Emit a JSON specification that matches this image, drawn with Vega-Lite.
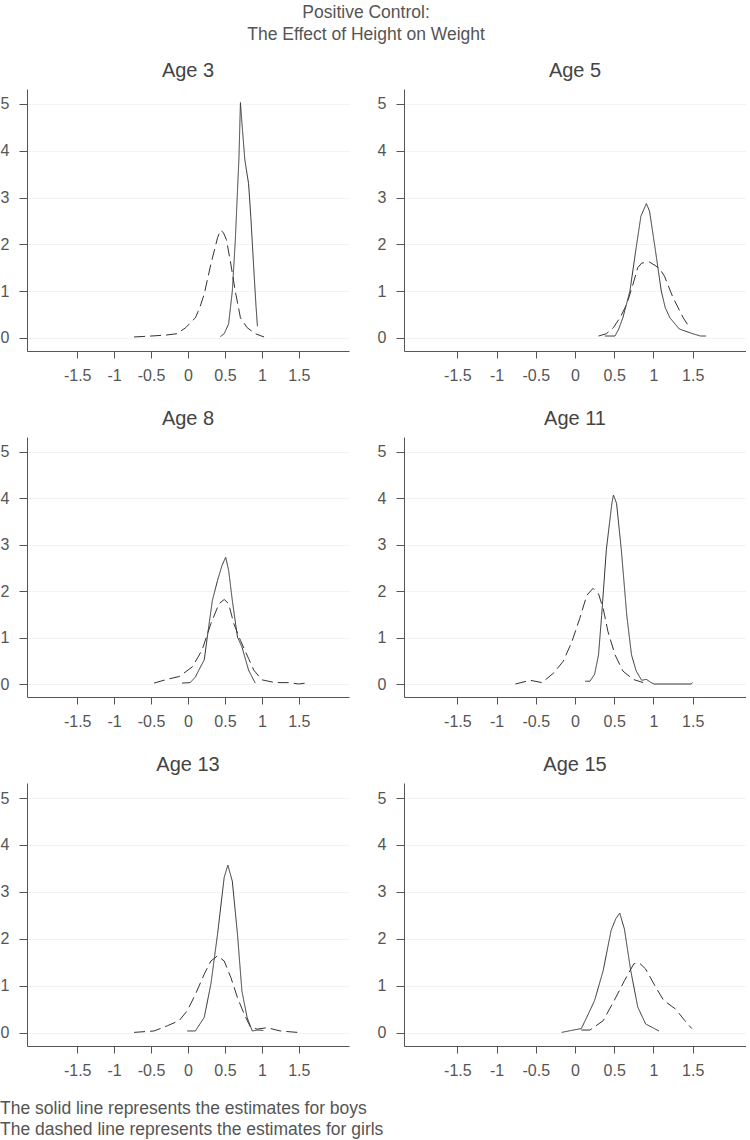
{
  "$schema": "https://vega.github.io/schema/vega-lite/v6.json",
  "padding": {"left": 0, "top": 3, "right": 0, "bottom": 0},
  "background": "white",
  "config": {
    "view": {"stroke": null},
    "font": "Liberation Sans",
    "axis": {
      "domainColor": "#555555",
      "tickColor": "#555555",
      "labelColor": "#555555",
      "labelFontSize": 16,
      "labelFont": "Liberation Sans",
      "title": null
    },
    "title": {"font": "Liberation Sans", "fontWeight": "normal", "color": "#444444"}
  },
  "title": {
    "text": ["Positive Control:", "The Effect of Height on Weight"],
    "fontSize": 17.5,
    "lineHeight": 22,
    "anchor": "middle",
    "offset": 18,
    "dx": -7,
    "color": "#555555"
  },
  "datasets": {
    "d": [
      {"age": 3, "sex": "boys", "x": 0.44, "y": 0.03},
      {"age": 3, "sex": "boys", "x": 0.49, "y": 0.09},
      {"age": 3, "sex": "boys", "x": 0.55, "y": 0.3},
      {"age": 3, "sex": "boys", "x": 0.6, "y": 1.0},
      {"age": 3, "sex": "boys", "x": 0.64, "y": 2.07},
      {"age": 3, "sex": "boys", "x": 0.69, "y": 3.85},
      {"age": 3, "sex": "boys", "x": 0.71, "y": 5.03},
      {"age": 3, "sex": "boys", "x": 0.73, "y": 4.6},
      {"age": 3, "sex": "boys", "x": 0.77, "y": 3.8},
      {"age": 3, "sex": "boys", "x": 0.82, "y": 3.3},
      {"age": 3, "sex": "boys", "x": 0.85, "y": 2.6},
      {"age": 3, "sex": "boys", "x": 0.89, "y": 1.5},
      {"age": 3, "sex": "boys", "x": 0.92, "y": 0.7},
      {"age": 3, "sex": "boys", "x": 0.94, "y": 0.25},
      {"age": 3, "sex": "girls", "x": -0.73, "y": 0.02},
      {"age": 3, "sex": "girls", "x": -0.5, "y": 0.04},
      {"age": 3, "sex": "girls", "x": -0.3, "y": 0.06},
      {"age": 3, "sex": "girls", "x": -0.15, "y": 0.09},
      {"age": 3, "sex": "girls", "x": -0.03, "y": 0.22},
      {"age": 3, "sex": "girls", "x": 0.1, "y": 0.43},
      {"age": 3, "sex": "girls", "x": 0.16, "y": 0.65},
      {"age": 3, "sex": "girls", "x": 0.22, "y": 0.94},
      {"age": 3, "sex": "girls", "x": 0.31, "y": 1.58},
      {"age": 3, "sex": "girls", "x": 0.4, "y": 2.14},
      {"age": 3, "sex": "girls", "x": 0.44, "y": 2.3},
      {"age": 3, "sex": "girls", "x": 0.48, "y": 2.25},
      {"age": 3, "sex": "girls", "x": 0.52, "y": 2.1},
      {"age": 3, "sex": "girls", "x": 0.58, "y": 1.58},
      {"age": 3, "sex": "girls", "x": 0.64, "y": 1.0},
      {"age": 3, "sex": "girls", "x": 0.71, "y": 0.43},
      {"age": 3, "sex": "girls", "x": 0.8, "y": 0.22},
      {"age": 3, "sex": "girls", "x": 0.91, "y": 0.09},
      {"age": 3, "sex": "girls", "x": 1.03, "y": 0.02},

      {"age": 5, "sex": "boys", "x": 0.38, "y": 0.04},
      {"age": 5, "sex": "boys", "x": 0.51, "y": 0.04},
      {"age": 5, "sex": "boys", "x": 0.56, "y": 0.2},
      {"age": 5, "sex": "boys", "x": 0.61, "y": 0.43},
      {"age": 5, "sex": "boys", "x": 0.7, "y": 1.0},
      {"age": 5, "sex": "boys", "x": 0.78, "y": 1.93},
      {"age": 5, "sex": "boys", "x": 0.84, "y": 2.6},
      {"age": 5, "sex": "boys", "x": 0.91, "y": 2.87},
      {"age": 5, "sex": "boys", "x": 0.95, "y": 2.71},
      {"age": 5, "sex": "boys", "x": 1.02, "y": 1.93},
      {"age": 5, "sex": "boys", "x": 1.1, "y": 1.0},
      {"age": 5, "sex": "boys", "x": 1.15, "y": 0.65},
      {"age": 5, "sex": "boys", "x": 1.21, "y": 0.43},
      {"age": 5, "sex": "boys", "x": 1.33, "y": 0.19},
      {"age": 5, "sex": "boys", "x": 1.5, "y": 0.09},
      {"age": 5, "sex": "boys", "x": 1.6, "y": 0.04},
      {"age": 5, "sex": "boys", "x": 1.67, "y": 0.04},
      {"age": 5, "sex": "girls", "x": 0.3, "y": 0.04},
      {"age": 5, "sex": "girls", "x": 0.4, "y": 0.09},
      {"age": 5, "sex": "girls", "x": 0.49, "y": 0.22},
      {"age": 5, "sex": "girls", "x": 0.58, "y": 0.45},
      {"age": 5, "sex": "girls", "x": 0.66, "y": 0.72},
      {"age": 5, "sex": "girls", "x": 0.74, "y": 1.15},
      {"age": 5, "sex": "girls", "x": 0.8, "y": 1.5},
      {"age": 5, "sex": "girls", "x": 0.85, "y": 1.6},
      {"age": 5, "sex": "girls", "x": 0.95, "y": 1.62},
      {"age": 5, "sex": "girls", "x": 1.02, "y": 1.55},
      {"age": 5, "sex": "girls", "x": 1.08, "y": 1.48},
      {"age": 5, "sex": "girls", "x": 1.14, "y": 1.32},
      {"age": 5, "sex": "girls", "x": 1.25, "y": 0.86},
      {"age": 5, "sex": "girls", "x": 1.38, "y": 0.43},
      {"age": 5, "sex": "girls", "x": 1.46, "y": 0.22},

      {"age": 8, "sex": "boys", "x": -0.08, "y": 0.02},
      {"age": 8, "sex": "boys", "x": 0.03, "y": 0.03},
      {"age": 8, "sex": "boys", "x": 0.1, "y": 0.15},
      {"age": 8, "sex": "boys", "x": 0.17, "y": 0.37},
      {"age": 8, "sex": "boys", "x": 0.22, "y": 0.52},
      {"age": 8, "sex": "boys", "x": 0.28, "y": 1.23},
      {"age": 8, "sex": "boys", "x": 0.33, "y": 1.8},
      {"age": 8, "sex": "boys", "x": 0.4, "y": 2.23},
      {"age": 8, "sex": "boys", "x": 0.46, "y": 2.55},
      {"age": 8, "sex": "boys", "x": 0.51, "y": 2.73},
      {"age": 8, "sex": "boys", "x": 0.55, "y": 2.45},
      {"age": 8, "sex": "boys", "x": 0.6, "y": 1.8},
      {"age": 8, "sex": "boys", "x": 0.67, "y": 1.01},
      {"age": 8, "sex": "boys", "x": 0.73, "y": 0.8},
      {"age": 8, "sex": "boys", "x": 0.82, "y": 0.3},
      {"age": 8, "sex": "boys", "x": 0.91, "y": 0.02},
      {"age": 8, "sex": "girls", "x": -0.46, "y": 0.02},
      {"age": 8, "sex": "girls", "x": -0.26, "y": 0.11},
      {"age": 8, "sex": "girls", "x": -0.12, "y": 0.16},
      {"age": 8, "sex": "girls", "x": 0.06, "y": 0.37},
      {"age": 8, "sex": "girls", "x": 0.19, "y": 0.73},
      {"age": 8, "sex": "girls", "x": 0.31, "y": 1.3},
      {"age": 8, "sex": "girls", "x": 0.42, "y": 1.73},
      {"age": 8, "sex": "girls", "x": 0.49, "y": 1.82},
      {"age": 8, "sex": "girls", "x": 0.55, "y": 1.73},
      {"age": 8, "sex": "girls", "x": 0.62, "y": 1.3},
      {"age": 8, "sex": "girls", "x": 0.71, "y": 0.94},
      {"age": 8, "sex": "girls", "x": 0.82, "y": 0.55},
      {"age": 8, "sex": "girls", "x": 0.89, "y": 0.3},
      {"age": 8, "sex": "girls", "x": 1.0, "y": 0.09},
      {"age": 8, "sex": "girls", "x": 1.18, "y": 0.03},
      {"age": 8, "sex": "girls", "x": 1.36, "y": 0.03},
      {"age": 8, "sex": "girls", "x": 1.5, "y": 0.0},
      {"age": 8, "sex": "girls", "x": 1.59, "y": 0.02},

      {"age": 11, "sex": "boys", "x": 0.13, "y": 0.06},
      {"age": 11, "sex": "boys", "x": 0.19, "y": 0.06},
      {"age": 11, "sex": "boys", "x": 0.25, "y": 0.21},
      {"age": 11, "sex": "boys", "x": 0.3, "y": 0.63},
      {"age": 11, "sex": "boys", "x": 0.34, "y": 1.48},
      {"age": 11, "sex": "boys", "x": 0.4, "y": 2.9},
      {"age": 11, "sex": "boys", "x": 0.47, "y": 3.89},
      {"age": 11, "sex": "boys", "x": 0.49, "y": 4.07},
      {"age": 11, "sex": "boys", "x": 0.53, "y": 3.89},
      {"age": 11, "sex": "boys", "x": 0.59, "y": 2.9},
      {"age": 11, "sex": "boys", "x": 0.66, "y": 1.48},
      {"age": 11, "sex": "boys", "x": 0.72, "y": 0.63},
      {"age": 11, "sex": "boys", "x": 0.78, "y": 0.28},
      {"age": 11, "sex": "boys", "x": 0.85, "y": 0.08},
      {"age": 11, "sex": "boys", "x": 0.91, "y": 0.1},
      {"age": 11, "sex": "boys", "x": 0.97, "y": 0.03},
      {"age": 11, "sex": "boys", "x": 1.01, "y": 0.0},
      {"age": 11, "sex": "boys", "x": 1.48, "y": 0.0},
      {"age": 11, "sex": "boys", "x": 1.5, "y": 0.03},
      {"age": 11, "sex": "girls", "x": -0.76, "y": 0.0},
      {"age": 11, "sex": "girls", "x": -0.57, "y": 0.08},
      {"age": 11, "sex": "girls", "x": -0.42, "y": 0.03},
      {"age": 11, "sex": "girls", "x": -0.27, "y": 0.24},
      {"age": 11, "sex": "girls", "x": -0.15, "y": 0.49},
      {"age": 11, "sex": "girls", "x": -0.04, "y": 0.91},
      {"age": 11, "sex": "girls", "x": 0.06, "y": 1.41},
      {"age": 11, "sex": "girls", "x": 0.15, "y": 1.91},
      {"age": 11, "sex": "girls", "x": 0.23, "y": 2.06},
      {"age": 11, "sex": "girls", "x": 0.3, "y": 1.94},
      {"age": 11, "sex": "girls", "x": 0.36, "y": 1.62},
      {"age": 11, "sex": "girls", "x": 0.42, "y": 1.13},
      {"age": 11, "sex": "girls", "x": 0.51, "y": 0.63},
      {"age": 11, "sex": "girls", "x": 0.61, "y": 0.28},
      {"age": 11, "sex": "girls", "x": 0.74, "y": 0.1},
      {"age": 11, "sex": "girls", "x": 0.87, "y": 0.03},

      {"age": 13, "sex": "boys", "x": -0.01, "y": 0.04},
      {"age": 13, "sex": "boys", "x": 0.1, "y": 0.04},
      {"age": 13, "sex": "boys", "x": 0.22, "y": 0.33},
      {"age": 13, "sex": "boys", "x": 0.31, "y": 1.04},
      {"age": 13, "sex": "boys", "x": 0.4, "y": 2.1},
      {"age": 13, "sex": "boys", "x": 0.49, "y": 3.31},
      {"age": 13, "sex": "boys", "x": 0.54, "y": 3.57},
      {"age": 13, "sex": "boys", "x": 0.6, "y": 3.23},
      {"age": 13, "sex": "boys", "x": 0.67, "y": 2.1},
      {"age": 13, "sex": "boys", "x": 0.73, "y": 0.89},
      {"age": 13, "sex": "boys", "x": 0.8, "y": 0.33},
      {"age": 13, "sex": "boys", "x": 0.87, "y": 0.04},
      {"age": 13, "sex": "boys", "x": 0.95, "y": 0.06},
      {"age": 13, "sex": "boys", "x": 1.02, "y": 0.05},
      {"age": 13, "sex": "girls", "x": -0.73, "y": 0.01},
      {"age": 13, "sex": "girls", "x": -0.46, "y": 0.04},
      {"age": 13, "sex": "girls", "x": -0.28, "y": 0.15},
      {"age": 13, "sex": "girls", "x": -0.12, "y": 0.26},
      {"age": 13, "sex": "girls", "x": -0.01, "y": 0.47},
      {"age": 13, "sex": "girls", "x": 0.1, "y": 0.82},
      {"age": 13, "sex": "girls", "x": 0.22, "y": 1.25},
      {"age": 13, "sex": "girls", "x": 0.31, "y": 1.53},
      {"age": 13, "sex": "girls", "x": 0.4, "y": 1.64},
      {"age": 13, "sex": "girls", "x": 0.49, "y": 1.53},
      {"age": 13, "sex": "girls", "x": 0.58, "y": 1.18},
      {"age": 13, "sex": "girls", "x": 0.67, "y": 0.75},
      {"age": 13, "sex": "girls", "x": 0.76, "y": 0.4},
      {"age": 13, "sex": "girls", "x": 0.85, "y": 0.11},
      {"age": 13, "sex": "girls", "x": 0.94, "y": 0.08},
      {"age": 13, "sex": "girls", "x": 1.07, "y": 0.11},
      {"age": 13, "sex": "girls", "x": 1.25, "y": 0.04},
      {"age": 13, "sex": "girls", "x": 1.48, "y": 0.01},

      {"age": 15, "sex": "boys", "x": -0.17, "y": 0.01},
      {"age": 15, "sex": "boys", "x": -0.02, "y": 0.06},
      {"age": 15, "sex": "boys", "x": 0.08, "y": 0.09},
      {"age": 15, "sex": "boys", "x": 0.15, "y": 0.33},
      {"age": 15, "sex": "boys", "x": 0.25, "y": 0.69},
      {"age": 15, "sex": "boys", "x": 0.36, "y": 1.33},
      {"age": 15, "sex": "boys", "x": 0.46, "y": 2.18},
      {"age": 15, "sex": "boys", "x": 0.52, "y": 2.43},
      {"age": 15, "sex": "boys", "x": 0.57, "y": 2.55},
      {"age": 15, "sex": "boys", "x": 0.63, "y": 2.21},
      {"age": 15, "sex": "boys", "x": 0.71, "y": 1.33},
      {"age": 15, "sex": "boys", "x": 0.8, "y": 0.55},
      {"age": 15, "sex": "boys", "x": 0.9, "y": 0.19},
      {"age": 15, "sex": "boys", "x": 1.07, "y": 0.04},
      {"age": 15, "sex": "girls", "x": 0.08, "y": 0.06},
      {"age": 15, "sex": "girls", "x": 0.19, "y": 0.06},
      {"age": 15, "sex": "girls", "x": 0.36, "y": 0.26},
      {"age": 15, "sex": "girls", "x": 0.5, "y": 0.69},
      {"age": 15, "sex": "girls", "x": 0.63, "y": 1.11},
      {"age": 15, "sex": "girls", "x": 0.75, "y": 1.47},
      {"age": 15, "sex": "girls", "x": 0.82, "y": 1.49},
      {"age": 15, "sex": "girls", "x": 0.9, "y": 1.36},
      {"age": 15, "sex": "girls", "x": 1.03, "y": 0.97},
      {"age": 15, "sex": "girls", "x": 1.13, "y": 0.69},
      {"age": 15, "sex": "girls", "x": 1.28, "y": 0.51},
      {"age": 15, "sex": "girls", "x": 1.4, "y": 0.26},
      {"age": 15, "sex": "girls", "x": 1.49, "y": 0.09}
    ]
  },
  "spacing": 26,
  "vconcat": [
    {
      "spacing": 28,
      "hconcat": [
        {
          "title": {"text": "Age 3", "fontSize": 20, "offset": 8},
          "width": 322, "height": 262,
          "data": {"name": "d"},
          "transform": [{"filter": "datum.age == 3"}],
          "mark": {"type": "line", "strokeWidth": 1, "color": "#333333"},
          "encoding": {
            "x": {"field": "x", "type": "quantitative", "scale": {"domain": [-2.18, 2.18], "nice": false, "zero": false},
              "axis": {"values": [-1.5, -1, -0.5, 0, 0.5, 1, 1.5], "grid": false, "tickSize": 7, "labelPadding": 9, "labelExpr": "'' + datum.value"}},
            "y": {"field": "y", "type": "quantitative", "scale": {"domain": [-0.28, 5.32], "nice": false, "zero": false},
              "axis": {"values": [0, 1, 2, 3, 4, 5], "grid": true, "gridColor": "#f3f3f3", "tickSize": 8, "labelPadding": 10, "labelExpr": "'' + datum.value"}},
            "strokeDash": {"field": "sex", "type": "nominal", "scale": {"domain": ["boys", "girls"], "range": [[1, 0], [11, 5]]}, "legend": null}
          }
        },
        {
          "title": {"text": "Age 5", "fontSize": 20, "offset": 8},
          "width": 342, "height": 262,
          "data": {"name": "d"},
          "transform": [{"filter": "datum.age == 5"}],
          "mark": {"type": "line", "strokeWidth": 1, "color": "#333333"},
          "encoding": {
            "x": {"field": "x", "type": "quantitative", "scale": {"domain": [-2.18, 2.18], "nice": false, "zero": false},
              "axis": {"values": [-1.5, -1, -0.5, 0, 0.5, 1, 1.5], "grid": false, "tickSize": 7, "labelPadding": 9, "labelExpr": "'' + datum.value"}},
            "y": {"field": "y", "type": "quantitative", "scale": {"domain": [-0.28, 5.32], "nice": false, "zero": false},
              "axis": {"values": [0, 1, 2, 3, 4, 5], "grid": true, "gridColor": "#f3f3f3", "tickSize": 8, "labelPadding": 10, "labelExpr": "'' + datum.value"}},
            "strokeDash": {"field": "sex", "type": "nominal", "scale": {"domain": ["boys", "girls"], "range": [[1, 0], [11, 5]]}, "legend": null}
          }
        }
      ]
    },
    {
      "spacing": 28,
      "hconcat": [
        {
          "title": {"text": "Age 8", "fontSize": 20, "offset": 8},
          "width": 322, "height": 260,
          "data": {"name": "d"},
          "transform": [{"filter": "datum.age == 8"}],
          "mark": {"type": "line", "strokeWidth": 1, "color": "#333333"},
          "encoding": {
            "x": {"field": "x", "type": "quantitative", "scale": {"domain": [-2.18, 2.18], "nice": false, "zero": false},
              "axis": {"values": [-1.5, -1, -0.5, 0, 0.5, 1, 1.5], "grid": false, "tickSize": 7, "labelPadding": 9, "labelExpr": "'' + datum.value"}},
            "y": {"field": "y", "type": "quantitative", "scale": {"domain": [-0.28, 5.32], "nice": false, "zero": false},
              "axis": {"values": [0, 1, 2, 3, 4, 5], "grid": true, "gridColor": "#f3f3f3", "tickSize": 8, "labelPadding": 10, "labelExpr": "'' + datum.value"}},
            "strokeDash": {"field": "sex", "type": "nominal", "scale": {"domain": ["boys", "girls"], "range": [[1, 0], [11, 5]]}, "legend": null}
          }
        },
        {
          "title": {"text": "Age 11", "fontSize": 20, "offset": 8},
          "width": 342, "height": 260,
          "data": {"name": "d"},
          "transform": [{"filter": "datum.age == 11"}],
          "mark": {"type": "line", "strokeWidth": 1, "color": "#333333"},
          "encoding": {
            "x": {"field": "x", "type": "quantitative", "scale": {"domain": [-2.18, 2.18], "nice": false, "zero": false},
              "axis": {"values": [-1.5, -1, -0.5, 0, 0.5, 1, 1.5], "grid": false, "tickSize": 7, "labelPadding": 9, "labelExpr": "'' + datum.value"}},
            "y": {"field": "y", "type": "quantitative", "scale": {"domain": [-0.28, 5.32], "nice": false, "zero": false},
              "axis": {"values": [0, 1, 2, 3, 4, 5], "grid": true, "gridColor": "#f3f3f3", "tickSize": 8, "labelPadding": 10, "labelExpr": "'' + datum.value"}},
            "strokeDash": {"field": "sex", "type": "nominal", "scale": {"domain": ["boys", "girls"], "range": [[1, 0], [11, 5]]}, "legend": null}
          }
        }
      ]
    },
    {
      "spacing": 28,
      "title": {
        "text": ["The solid line represents the estimates for boys", "The dashed line represents the estimates for girls"],
        "orient": "bottom",
        "anchor": "start",
        "fontSize": 17.5,
        "lineHeight": 21,
        "offset": 22,
        "color": "#555555"
      },
      "hconcat": [
        {
          "title": {"text": "Age 13", "fontSize": 20, "offset": 8},
          "width": 322, "height": 263,
          "data": {"name": "d"},
          "transform": [{"filter": "datum.age == 13"}],
          "mark": {"type": "line", "strokeWidth": 1, "color": "#333333"},
          "encoding": {
            "x": {"field": "x", "type": "quantitative", "scale": {"domain": [-2.18, 2.18], "nice": false, "zero": false},
              "axis": {"values": [-1.5, -1, -0.5, 0, 0.5, 1, 1.5], "grid": false, "tickSize": 7, "labelPadding": 9, "labelExpr": "'' + datum.value"}},
            "y": {"field": "y", "type": "quantitative", "scale": {"domain": [-0.28, 5.32], "nice": false, "zero": false},
              "axis": {"values": [0, 1, 2, 3, 4, 5], "grid": true, "gridColor": "#f3f3f3", "tickSize": 8, "labelPadding": 10, "labelExpr": "'' + datum.value"}},
            "strokeDash": {"field": "sex", "type": "nominal", "scale": {"domain": ["boys", "girls"], "range": [[1, 0], [11, 5]]}, "legend": null}
          }
        },
        {
          "title": {"text": "Age 15", "fontSize": 20, "offset": 8},
          "width": 342, "height": 263,
          "data": {"name": "d"},
          "transform": [{"filter": "datum.age == 15"}],
          "mark": {"type": "line", "strokeWidth": 1, "color": "#333333"},
          "encoding": {
            "x": {"field": "x", "type": "quantitative", "scale": {"domain": [-2.18, 2.18], "nice": false, "zero": false},
              "axis": {"values": [-1.5, -1, -0.5, 0, 0.5, 1, 1.5], "grid": false, "tickSize": 7, "labelPadding": 9, "labelExpr": "'' + datum.value"}},
            "y": {"field": "y", "type": "quantitative", "scale": {"domain": [-0.28, 5.32], "nice": false, "zero": false},
              "axis": {"values": [0, 1, 2, 3, 4, 5], "grid": true, "gridColor": "#f3f3f3", "tickSize": 8, "labelPadding": 10, "labelExpr": "'' + datum.value"}},
            "strokeDash": {"field": "sex", "type": "nominal", "scale": {"domain": ["boys", "girls"], "range": [[1, 0], [11, 5]]}, "legend": null}
          }
        }
      ]
    }
  ]
}
